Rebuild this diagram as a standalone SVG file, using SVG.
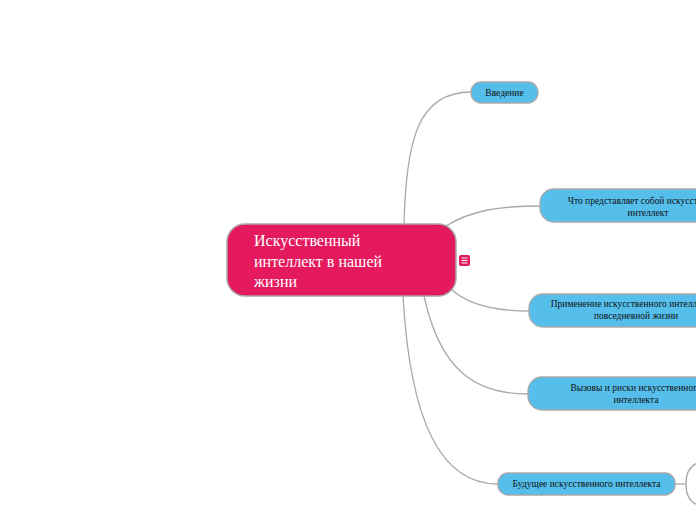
<svg xmlns="http://www.w3.org/2000/svg" width="696" height="520" viewBox="0 0 696 520">
<style>
.sub rect{fill:#55BEEB;stroke:#A9A9A9;stroke-width:1.3}
.sub text{font-family:"Liberation Serif",serif;font-size:9.5px;fill:#111;text-anchor:middle}
.conn path{fill:none;stroke:#A9A9A9;stroke-width:1.3}
</style>
<rect width="696" height="520" fill="#fff"/>
<g class="conn" id="connectors">
<path d="M404 224 C406 140 418 92 471 92"/>
<path d="M446 226 C472 210 500 206 540 206"/>
<path d="M451 289 C468 305 495 311 529 311"/>
<path d="M424 296 C440 370 475 394 528 394"/>
<path d="M403 296 C410 420 440 484 498 484"/>
<path d="M675 484 L686 484"/>
<path d="M698 463 Q686 467 686 484 Q686 501 698 505"/>
</g>
<g id="central">
<rect x="227" y="224" width="229" height="72" rx="18" fill="#E5195E" stroke="#A9A9A9" stroke-width="1.5"/>
<text font-family="Liberation Serif, serif" font-size="16" fill="#fff"><tspan x="254" y="246">Искусственный</tspan><tspan x="254" y="266.5">интеллект в нашей</tspan><tspan x="254" y="287">жизни</tspan></text>
</g>
<g id="note-icon">
<rect x="459" y="255" width="11" height="11" rx="2" fill="#E5195E"/>
<path d="M461.5 258 h6 M461.5 260.5 h6 M461.5 263 h6" stroke="#fff" stroke-width="1"/>
</g>
<g class="sub" id="n1">
<rect x="471" y="82" width="67" height="21" rx="10"/>
<text x="504.5" y="95.5">Введение</text>
</g>
<g class="sub" id="n2">
<rect x="540" y="189" width="216" height="33" rx="14"/>
<text><tspan x="648" y="203.5">Что представляет собой искусственный</tspan><tspan x="648" y="215.5">интеллект</tspan></text>
</g>
<g class="sub" id="n3">
<rect x="529" y="294" width="214" height="33" rx="14"/>
<text><tspan x="636" y="307">Применение искусственного интеллекта в</tspan><tspan x="636" y="319">повседневной жизни</tspan></text>
</g>
<g class="sub" id="n4">
<rect x="528" y="377" width="216" height="33" rx="14"/>
<text><tspan x="636" y="390.5">Вызовы и риски искусственного</tspan><tspan x="636" y="402.5">интеллекта</tspan></text>
</g>
<g class="sub" id="n5">
<rect x="498" y="473" width="177" height="22" rx="10"/>
<text x="586.5" y="487">Будущее искусственного интеллекта</text>
</g>
</svg>
